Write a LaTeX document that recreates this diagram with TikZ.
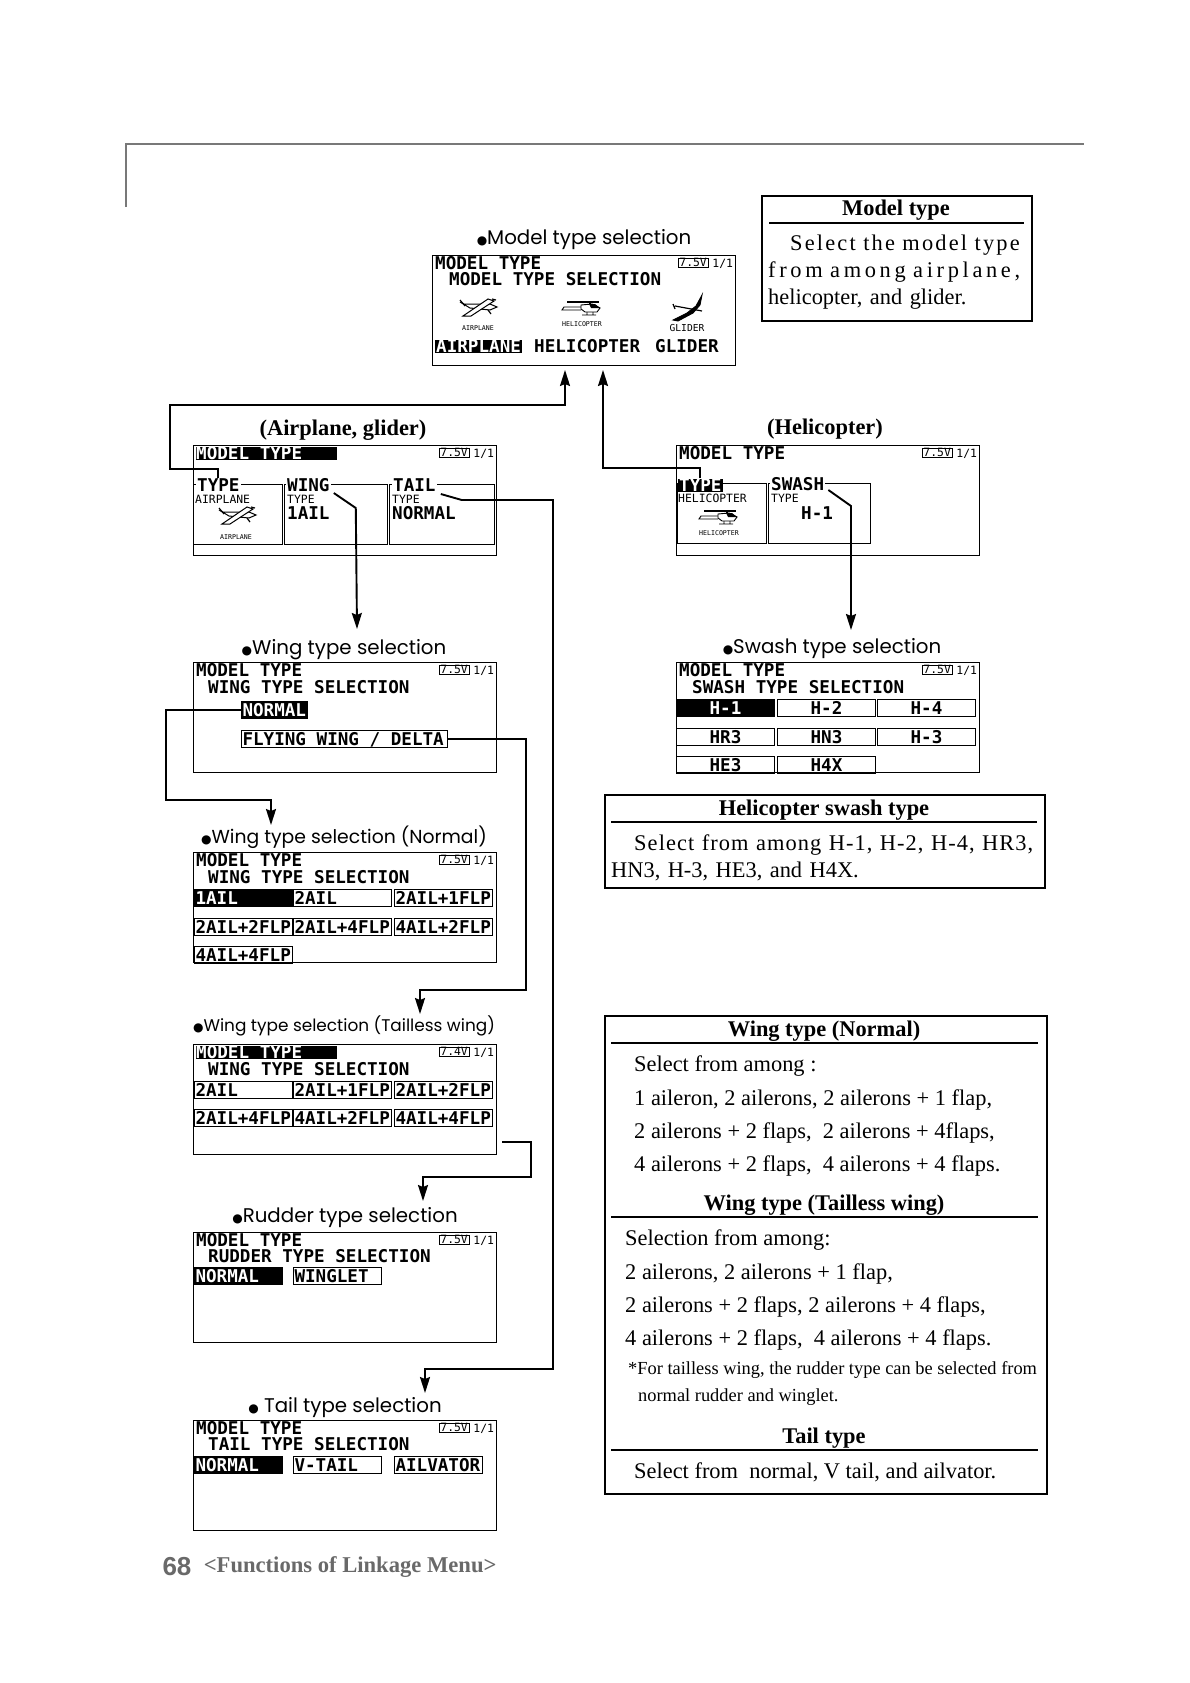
\documentclass[tikz,border=0pt]{standalone}
\usepackage{fontspec}
\setmainfont{Liberation Serif}
\newfontfamily\lcdfont{DejaVu Sans Mono}
\newfontfamily\capfont{Poppins}
\newfontfamily\dotfont{DejaVu Sans}
\newfontfamily\pagefont{Liberation Sans}
\usetikzlibrary{calc, positioning, arrows.meta}
\definecolor{RuleGray}{RGB}{120, 120, 120}
\definecolor{PageGray}{RGB}{105, 105, 105}
\newcommand{\stepdot}{{\dotfont\fontsize{12}{12}\selectfont ●}}
\tikzset{
  lcdbox/.style={draw, line width=1.2pt, minimum width=303pt, minimum height=110pt, inner sep=0pt, anchor=north west},
  lcdbig/.style={font=\lcdfont\bfseries\fontsize{17.6}{18}\selectfont, inner sep=0pt, text height=13pt, text depth=0pt, anchor=west},
  lcdsel/.style={lcdbig, fill=black, text=white},
  lcdhead/.style={lcdsel, text width=141pt, align=flush left},
  lcdsmall/.style={font=\lcdfont\fontsize{11.4}{12}\selectfont, inner sep=0pt, text height=8pt, text depth=0pt, anchor=west},
  lcdtiny/.style={font=\lcdfont\fontsize{6.6}{7}\selectfont, inner sep=0pt},
  lcdframe/.style={draw, line width=1pt},
  lcdcell/.style={lcdbig, draw, line width=1pt, inner xsep=1pt, minimum height=17pt, text height=13pt, anchor=north west, align=flush left},
  lcdon/.style={lcdcell, fill=black, text=white},
  framelabel/.style={lcdbig, fill=white, inner xsep=1pt},
  flowline/.style={line width=1.9pt},
  flowarrow/.style={flowline, -{Stealth[length=16pt, width=10pt, inset=2pt]}},
  steplabel/.style={font=\capfont\fontsize{19.8}{20}\selectfont},
  infobox/.style={draw, line width=1.9pt, anchor=north west, inner sep=0pt},
  infohead/.style={font=\bfseries\fontsize{22.4}{23}\selectfont, inner sep=0pt},
  infobody/.style={font=\fontsize{22.4}{33.2}\selectfont, inner sep=0pt, anchor=north west, align=left},
  inforule/.style={line width=1.9pt},
  planeicon/.pic={
    \draw[line width=1pt, fill=white] (-18,-5) -- (-14,-3) -- (4,-3) -- (12,-3) -- (19,0) -- (12,3) -- (-8,1) -- cycle;
    \draw[line width=1pt, fill=white] (-15,9) -- (-7,9) -- (16,-6) -- (10,-8) -- cycle;
    \draw[line width=1.2pt] (-18,-7) -- (-13,-1) (13,7) -- (10,3) (14,-8) -- (18,-7);
  },
  heliicon/.pic={
    \draw[line width=1.1pt] (-15,-5) -- (17,-5) (8,-5) -- (8,-2);
    \draw[line width=0.9pt, fill=white] (-1,-2) -- (10,-3) -- (18,1) -- (15,5) -- (3,5) -- (-1,2) -- cycle;
    \fill (7,-3) -- (13,-3) -- (18,1) -- (9,1) -- cycle;
    \draw[line width=0.9pt] (-1,0) -- (-18,0) -- (-20,3) -- (-1,3) (0,8) -- (14,8) (5,5) -- (5,8) (11,5) -- (11,8);
  },
  glidericon/.pic={
    \draw[line width=0.9pt, fill=black] (-14,11) -- (0,4) -- (9,-3) -- (15,-14) -- (13,-4) -- (6,4) -- (-9,12) -- cycle;
    \draw[line width=1.2pt] (-12,-3) -- (15,2) (-14,-5) -- (-12,0);
  },
}
% one LCD screen: style of title, name, top left corner, title, voltage
\newcommand{\lcdscreen}[5][lcdbig]{%
  \node[lcdbox] (#2) at (#3) {};
  \node[#1] (#2title) at ($(#2.north west)+(3,8)$) {#4};
  \node[draw, lcdsmall, inner xsep=1pt, text height=8pt, text depth=1pt] (#2volt) at ($(#2.north east)+(-58,8)$) {#5};
  \node[lcdsmall] (#2page) at ($(#2.north east)+(-24,8)$) {1/1};
}
\begin{document}
\begin{tikzpicture}[x=1pt, y=-1pt]
  \useasboundingbox (0,0) rectangle (1190,1683);

  % Page head rule
  \draw[RuleGray, line width=2.8pt] (126,207) -- (126,144) -- (1084,144);

  % Model type selection
  \node[steplabel] (capmodel) at (584,240) {\stepdot Model type selection};
  \lcdscreen{scrmodel}{432,255}{MODEL TYPE}{7.5V}
  \node[lcdbig] (submodel) at (449,279) {MODEL TYPE SELECTION};
  \pic at (478,307) {planeicon};
  \pic at (582,307) {heliicon};
  \pic at (687,309) {glidericon};
  \node[lcdtiny] (iconplane) at (478,328) {AIRPLANE};
  \node[lcdtiny] (iconheli) at (582,324) {HELICOPTER};
  \node[lcdtiny, font=\lcdfont\fontsize{9.6}{10}\selectfont] (iconglider) at (687,328) {GLIDER};
  \node[lcdsel, inner xsep=1pt] (modelplane) at (435,346) {AIRPLANE};
  \node[lcdbig] (modelheli) at (534,346) {HELICOPTER};
  \node[lcdbig] (modelglider) at (655,346) {GLIDER};
  \coordinate (upleft) at (565,370);
  \coordinate (upright) at (603,370);

  % Airplane, glider
  \node[infohead] (capplane) at (343,430) {(Airplane, glider)};
  \lcdscreen[lcdhead]{scrplane}{193,445}{MODEL TYPE}{7.5V}
  \draw[lcdframe] (193,484) rectangle (282,544);
  \draw[lcdframe] (284,484) rectangle (387,544);
  \draw[lcdframe] (389,484) rectangle (494,544);
  \node[framelabel] (typea) at (196,485) {TYPE};
  \node[framelabel] (winga) at (286,485) {WING};
  \node[framelabel] (taila) at (392,485) {TAIL};
  \node[lcdsmall] (typeval) at (195,499) {AIRPLANE};
  \node[lcdsmall] (wingsub) at (287,499) {TYPE};
  \node[lcdsmall] (tailsub) at (392,499) {TYPE};
  \node[lcdbig] (wingval) at (287,513) {1AIL};
  \node[lcdbig] (tailval) at (392,513) {NORMAL};
  \pic at (237,515) {planeicon};
  \node[lcdtiny] (iconplaneb) at (236,537) {AIRPLANE};

  % Helicopter
  \node[infohead] (capheli) at (825,429) {(Helicopter)};
  \lcdscreen{scrheli}{676,445}{MODEL TYPE}{7.5V}
  \draw[lcdframe] (677,483) rectangle (766,543);
  \draw[lcdframe] (768,483) rectangle (870,543);
  \node[lcdsel, inner xsep=1pt] (typeb) at (678,485) {TYPE};
  \node[framelabel] (swashb) at (770,484) {SWASH};
  \node[lcdsmall] (typebval) at (678,498) {HELICOPTER};
  \node[lcdsmall] (swashsub) at (771,498) {TYPE};
  \node[lcdbig] (swashval) at (801,513) {H-1};
  \pic at (719,516) {heliicon};
  \node[lcdtiny] (iconhelib) at (719,533) {HELICOPTER};

  % Wing type selection
  \node[steplabel] (capwing) at (344,650) {\stepdot Wing type selection};
  \lcdscreen{scrwing}{193,662}{MODEL TYPE}{7.5V}
  \node[lcdbig] (subwing) at (208,687) {WING TYPE SELECTION};
  \node[lcdon, inner xsep=1pt] (wingnormal) at (241,701) {NORMAL};
  \node[lcdcell, text width=204pt] (wingdelta) at (241,730) {FLYING WING / DELTA};

  % Swash type selection
  \node[steplabel] (capswash) at (832,649) {\stepdot Swash type selection};
  \lcdscreen{scrswash}{676,662}{MODEL TYPE}{7.5V}
  \node[lcdbig] (subswash) at (692,687) {SWASH TYPE SELECTION};
  \foreach \nm/\px/\py/\txt in {s2/777/699/H-2, s3/877/699/H-4, s4/676/728/HR3, s5/777/728/HN3, s6/877/728/H-3, s7/676/756/HE3, s8/777/756/H4X}
    \node[lcdcell, text width=96pt, align=center] (\nm) at (\px,\py) {\txt};
  \node[lcdon, text width=96pt, align=center] (s1) at (676,699) {H-1};

  % Wing type selection, normal
  \node[steplabel, font=\capfont\fontsize{18.8}{19}\selectfont] (capnormal) at (344,837) {\stepdot Wing type selection (Normal)};
  \lcdscreen{scrnormal}{193,852}{MODEL TYPE}{7.5V}
  \node[lcdbig] (subnormal) at (208,877) {WING TYPE SELECTION};
  \foreach \nm/\px/\py/\txt in {n2/293/889/2AIL, n3/394/889/2AIL+1FLP, n4/194/918/2AIL+2FLP, n5/293/918/2AIL+4FLP, n6/394/918/4AIL+2FLP, n7/194/946/4AIL+4FLP}
    \node[lcdcell, text width=96pt] (\nm) at (\px,\py) {\txt};
  \node[lcdon, text width=96pt] (n1) at (194,889) {1AIL};

  % Wing type selection, tailless
  \node[steplabel, font=\capfont\fontsize{16.9}{18}\selectfont] (captail) at (344,1026) {\stepdot Wing type selection (Tailless wing)};
  \lcdscreen[lcdhead]{scrtailless}{193,1044}{MODEL TYPE}{7.4V}
  \node[lcdbig] (subtailless) at (208,1069) {WING TYPE SELECTION};
  \foreach \nm/\px/\py/\txt in {t1/194/1081/2AIL, t2/293/1081/2AIL+1FLP, t3/394/1081/2AIL+2FLP, t4/194/1109/2AIL+4FLP, t5/293/1109/4AIL+2FLP, t6/394/1109/4AIL+4FLP}
    \node[lcdcell, text width=96pt] (\nm) at (\px,\py) {\txt};

  % Rudder type selection
  \node[steplabel] (caprudder) at (345,1218) {\stepdot Rudder type selection};
  \lcdscreen{scrrudder}{193,1232}{MODEL TYPE}{7.5V}
  \node[lcdbig] (subrudder) at (208,1256) {RUDDER TYPE SELECTION};
  \node[lcdon, text width=86pt] (r1) at (194,1267) {NORMAL};
  \node[lcdcell, text width=86pt] (r2) at (293,1267) {WINGLET};

  % Tail type selection
  \node[steplabel] (capfin) at (345,1408) {\stepdot{} Tail type selection};
  \lcdscreen{scrfin}{193,1420}{MODEL TYPE}{7.5V}
  \node[lcdbig] (subfin) at (208,1444) {TAIL TYPE SELECTION};
  \node[lcdon, text width=86pt] (f1) at (194,1456) {NORMAL};
  \node[lcdcell, text width=86pt] (f2) at (293,1456) {V-TAIL};
  \node[lcdcell, text width=86pt] (f3) at (394,1456) {AILVATOR};

  % Connectors
  \coordinate (wingdown) at (357,629);
  \coordinate (taildown) at (425,1393);
  \coordinate (swashknee) at (851,506);
  \coordinate (swashdown) at (851,630);
  \coordinate (normaldown) at (271,825);
  \coordinate (deltadown) at (420,1014);
  \coordinate (rudderdown) at (423,1201);
  \coordinate (tailcorner) at (553,500);
  \coordinate (tailfoot) at (553,1369);
  \draw[flowarrow] (typea.north) -- ++(0,-9) -| ++(-48,-64) -| (upleft);
  \draw[flowarrow] (typeb.north) -- ++(0,-10) -| (upright);
  \draw[flowarrow] (winga.east) ++(3,8) -- ++(22,15) -- (wingdown);
  \draw[flowarrow] (swashb.east) ++(3,6) -- (swashknee) -- (swashdown);
  \draw[flowarrow] (taila.east) ++(4,9) -- ++(21,6) -- (tailcorner) -- (tailfoot) -| (taildown);
  \draw[flowarrow] (wingnormal.west) -- ++(-75,0) -- ++(0,90) -| (normaldown);
  \draw[flowarrow] (wingdelta.east) -- ++(78,0) -- ++(0,251) -| (deltadown);
  \draw[flowarrow] (scrtailless.east) ++(5,42) -- ++(29,0) -- ++(0,35) -| (rudderdown);

  % Text boxes
  \node[infobox, minimum width=270pt, minimum height=125pt] (boxmodel) at (761,195) {};
  \node[infohead] (headmodel) at (896,210) {Model type};
  \draw[inforule] (769,223) -- (1024,223);
  \node[infobody, font=\fontsize{22.4}{27}\selectfont, text width=262pt] (textmodel) at (768,235)
    {\hspace*{22pt}{\addfontfeature{LetterSpace=9.7}Select the model type}\\
     {\addfontfeature{LetterSpace=16.3}from among airplane,}\\helicopter, and glider.};

  \node[infobox, minimum width=440pt, minimum height=93pt] (boxswash) at (604,794) {};
  \node[infohead] (headswash) at (824,810) {Helicopter swash type};
  \draw[inforule] (611,822) -- (1037,822);
  \node[infobody, font=\fontsize{22.4}{27}\selectfont, text width=430pt] (textswash) at (611,835)
    {\hspace*{23pt}{\addfontfeature{LetterSpace=4.8}Select from among H-1, H-2, H-4, HR3,}\\HN3, H-3, HE3, and H4X.};

  \node[infobox, minimum width=442pt, minimum height=478pt] (boxwing) at (604,1015) {};
  \node[infohead] (headnormal) at (824,1031) {Wing type (Normal)};
  \draw[inforule] (611,1043) -- (1038,1043);
  \node[infobody] (textnormal) at (634,1056)
    {Select from among :\\1 aileron, 2 ailerons, 2 ailerons + 1 flap,\\2 ailerons + 2 flaps,~ 2 ailerons + 4flaps,\\4 ailerons + 2 flaps,~ 4 ailerons + 4 flaps.};
  \node[infohead] (headtailless) at (824,1205) {Wing type (Tailless wing)};
  \draw[inforule] (611,1217) -- (1038,1217);
  \node[infobody] (texttailless) at (625,1230)
    {Selection from among:\\2 ailerons, 2 ailerons + 1 flap,\\2 ailerons + 2 flaps, 2 ailerons + 4 flaps,\\4 ailerons + 2 flaps,~ 4 ailerons + 4 flaps.};
  \node[infobody, font=\fontsize{18.4}{27}\selectfont] (textnote) at (628,1361)
    {*For tailless wing, the rudder type can be selected from\\\hspace*{10pt}normal rudder and winglet.};
  \node[infohead] (headfin) at (824,1438) {Tail type};
  \draw[inforule] (611,1450) -- (1038,1450);
  \node[infobody] (textfin) at (634,1463) {Select from~ normal, V tail, and ailvator.};

  % Page footer
  \node[font=\pagefont\bfseries\fontsize{26}{26}\selectfont, text=PageGray, inner sep=0pt] (pagenum) at (177,1567) {68};
  \node[right=12pt of pagenum, font=\bfseries\fontsize{22.6}{24}\selectfont, text=PageGray, inner sep=0pt] (pagetitle) {<Functions of Linkage Menu>};
\end{tikzpicture}
\end{document}
